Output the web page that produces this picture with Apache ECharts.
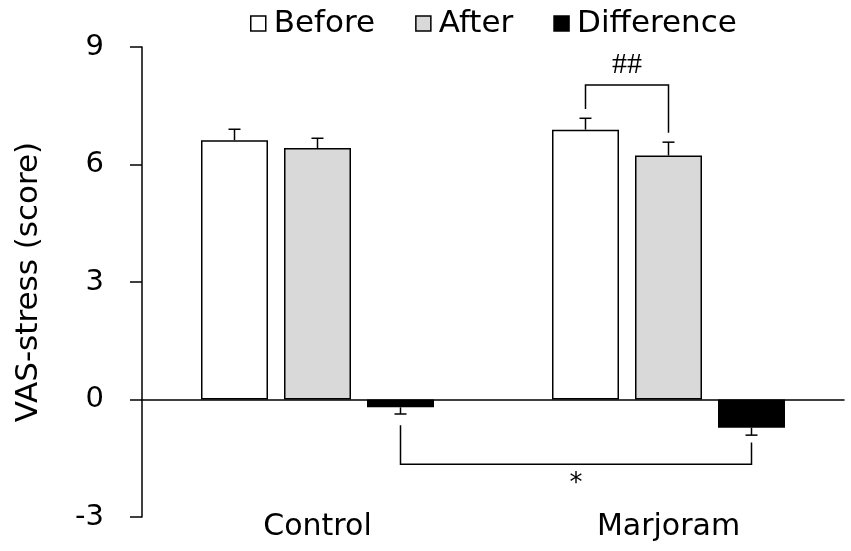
<!DOCTYPE html>
<html>
<head>
<meta charset="utf-8">
<script src="https://cdn.jsdelivr.net/npm/echarts@6/dist/echarts.min.js"></script>
<style>
  html, body { margin: 0; padding: 0; background: #fff; }
  #chart1 { width: 851px; height: 551px; }
</style>
</head>
<body>
<div id="chart1"></div>
<script>
// values
var categories = ['Control', 'Marjoram'];
var seriesNames = ['Before', 'After', 'Difference'];
var before = [6.62, 6.89];
var beforeErr = [0.28, 0.29];
var after = [6.42, 6.23];
var afterErr = [0.25, 0.34];
var difference = [-0.20, -0.72];
var differenceErr = [0.17, 0.19];
var yTicks = [-3, 0, 3, 6, 9];

// significance brackets: [catA, slotA, legEndA, catB, slotB, legEndB, level, mark]
var brackets = [
    [1, 0, 7.42, 1, 1, 6.81, 8.03, '##'],
    [0, 2, -0.66, 1, 2, -1.10, -1.65, '*']
];

var BAR_W = 67;
var BAR_GAP = 16;
var FONT = 'DejaVu Sans';

var chart = echarts.init(document.getElementById('chart1'));

function slotX(api, cat, slot) {
    return api.coord([cat, 0])[0] + (slot - 1) * (BAR_W + BAR_GAP);
}

var errData = [];
[before, after, difference].forEach(function (vals, s) {
    var errs = [beforeErr, afterErr, differenceErr][s];
    vals.forEach(function (v, i) {
        errData.push([i, v, errs[i], s]);
    });
});

var option = {
    animation: false,
    backgroundColor: '#fff',
    legend: {
        data: seriesNames,
        left: 245,
        top: 3,
        itemWidth: 15,
        itemHeight: 15,
        itemGap: 40,
        icon: 'rect',
        textStyle: { fontFamily: FONT, fontSize: 31, color: '#000', padding: [0, 0, 0, 3] },
        itemStyle: { borderColor: '#000', borderWidth: 1.5 }
    },
    grid: { left: 142, right: 7, top: 47, bottom: 34, containLabel: false, outerBoundsMode: 'none' },
    xAxis: [{
        type: 'category',
        data: categories,
        axisLine: { onZero: true, lineStyle: { color: '#000', width: 1.5 } },
        axisTick: { length: 12, lineStyle: { color: '#000', width: 1.5 } },
        axisLabel: { margin: -5, fontFamily: FONT, fontSize: 30, color: '#000' }
    }],
    yAxis: [{
        type: 'value',
        min: yTicks[0],
        max: yTicks[yTicks.length - 1],
        interval: 3,
        name: 'VAS-stress (score)',
        nameLocation: 'middle',
        nameGap: 98,
        nameTextStyle: { fontFamily: FONT, fontSize: 31, color: '#000' },
        axisLine: { show: true, lineStyle: { color: '#000', width: 1.5 } },
        axisTick: { show: true, length: 12, lineStyle: { color: '#000', width: 1.5 } },
        axisLabel: { margin: 38, fontFamily: FONT, fontSize: 29, color: '#000' },
        splitLine: { show: false }
    }],
    series: [{
        name: 'Before',
        type: 'bar',
        barWidth: BAR_W,
        barGap: (BAR_GAP / BAR_W * 100) + '%',
        data: before,
        itemStyle: { color: '#ffffff', borderColor: '#000', borderWidth: 1.5 }
    }, {
        name: 'After',
        type: 'bar',
        barWidth: BAR_W,
        data: after,
        itemStyle: { color: '#d9d9d9', borderColor: '#000', borderWidth: 1.5 }
    }, {
        name: 'Difference',
        type: 'bar',
        barWidth: BAR_W,
        data: difference,
        itemStyle: { color: '#000000', borderColor: '#000', borderWidth: 1.5 }
    }, {
        // one-sided error bars
        type: 'custom',
        data: errData,
        encode: { x: 0, y: 1 },
        z: 5,
        silent: true,
        renderItem: function (params, api) {
            var cat = api.value(0), v = api.value(1), e = api.value(2), s = api.value(3);
            var x = slotX(api, cat, s);
            var tip = v >= 0 ? v + e : v - e;
            var y0 = api.coord([cat, v])[1];
            var y1 = api.coord([cat, tip])[1];
            var style = { stroke: '#000', lineWidth: 1.5 };
            return {
                type: 'group',
                children: [
                    { type: 'line', shape: { x1: x, y1: y0, x2: x, y2: y1 }, style: style },
                    { type: 'line', shape: { x1: x - 6, y1: y1, x2: x + 6, y2: y1 }, style: style }
                ]
            };
        }
    }, {
        // significance brackets
        type: 'custom',
        data: brackets.map(function (b, i) { return [b[0], b[6], i]; }),
        encode: { x: 0, y: 1 },
        z: 5,
        silent: true,
        renderItem: function (params, api) {
            var b = brackets[api.value(2)];
            var xa = slotX(api, b[0], b[1]);
            var xb = slotX(api, b[3], b[4]);
            var yl = api.coord([0, b[6]])[1];
            var ya = api.coord([0, b[2]])[1];
            var yb = api.coord([0, b[5]])[1];
            var up = b[6] > 0;
            var style = { stroke: '#000', lineWidth: 1.5, fill: null };
            return {
                type: 'group',
                children: [
                    { type: 'polyline', shape: { points: [[xa, ya], [xa, yl], [xb, yl], [xb, yb]] }, style: style },
                    {
                        type: 'text',
                        style: {
                            text: b[7],
                            x: (xa + xb) / 2,
                            y: up ? yl - 20 : yl + 20,
                            align: 'center',
                            verticalAlign: 'middle',
                            fontFamily: up ? 'Liberation Serif' : FONT,
                            fontSize: up ? 30 : 26,
                            fill: '#000'
                        }
                    }
                ]
            };
        }
    }]
};

chart.setOption(option);
</script>
</body>
</html>
